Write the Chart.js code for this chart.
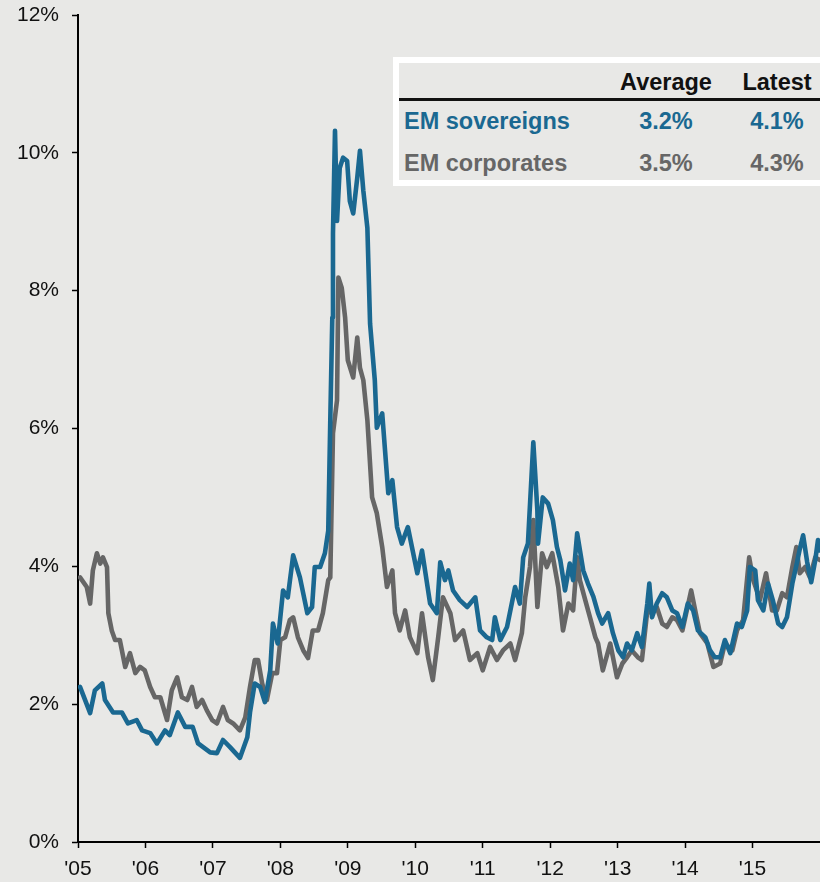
<!DOCTYPE html>
<html>
<head>
<meta charset="utf-8">
<script src="https://cdn.jsdelivr.net/npm/chart.js@4/dist/chart.umd.min.js"></script>
<style>
html,body{margin:0;padding:0;background:#e8e8e6;}
#wrap{position:relative;width:820px;height:882px;overflow:hidden;font-family:"Liberation Sans",Arial,sans-serif;}
#c{position:absolute;left:0;top:0;}
#legbox{position:absolute;left:393px;top:57px;width:440px;height:117px;border:6px solid #fff;background:#e8e8e6;}
#legline{position:absolute;left:399px;top:98px;width:421px;height:3px;background:#111;}
.lt{position:absolute;font-weight:bold;font-size:23.5px;line-height:23px;white-space:nowrap;}
.num{width:120px;text-align:center;}
</style>
</head>
<body>
<div id="wrap">
<canvas id="c" width="820" height="882"></canvas>
<div id="legbox"></div>
<div id="legline"></div>
<div id="legend"></div>
</div>
<script>
// ---- data ----
const xTickYears = [2005,2006,2007,2008,2009,2010,2011,2012,2013,2014,2015];
const xTickLabels = ["'05","'06","'07","'08","'09","'10","'11","'12","'13","'14","'15"];
const yTickValues = [0,2,4,6,8,10,12];
const seriesNames = ["EM sovereigns","EM corporates"];
const averages = ["3.2%","3.5%"];
const latests = ["4.1%","4.3%"];
const headers = ["Average","Latest"];
const seriesColors = ["#1a6891","#666666"];

// [decimal year, yield %]
const emSovereigns = [[2005.03,2.25],[2005.18,1.87],[2005.25,2.20],[2005.36,2.30],[2005.40,2.06],[2005.52,1.88],[2005.65,1.88],[2005.74,1.72],[2005.87,1.77],[2005.95,1.62],[2006.07,1.58],[2006.17,1.43],[2006.29,1.62],[2006.36,1.55],[2006.48,1.88],[2006.59,1.67],[2006.70,1.67],[2006.78,1.43],[2006.96,1.30],[2007.06,1.29],[2007.15,1.48],[2007.25,1.38],[2007.40,1.22],[2007.51,1.52],[2007.55,1.88],[2007.62,2.30],[2007.70,2.25],[2007.77,2.03],[2007.85,2.49],[2007.89,3.17],[2007.96,2.88],[2008.04,3.65],[2008.11,3.55],[2008.19,4.16],[2008.29,3.84],[2008.40,3.32],[2008.47,3.41],[2008.51,3.99],[2008.59,3.99],[2008.66,4.19],[2008.71,4.52],[2008.74,6.12],[2008.77,7.61],[2008.78,8.83],[2008.81,10.32],[2008.84,9.01],[2008.88,9.78],[2008.93,9.93],[2008.99,9.88],[2009.03,9.30],[2009.08,9.12],[2009.14,9.64],[2009.18,10.03],[2009.23,9.45],[2009.29,8.91],[2009.33,7.52],[2009.40,6.70],[2009.43,6.01],[2009.51,6.22],[2009.60,5.06],[2009.66,5.25],[2009.73,4.57],[2009.80,4.33],[2009.89,4.57],[2010.03,3.90],[2010.10,4.23],[2010.22,3.46],[2010.32,3.32],[2010.37,4.06],[2010.44,3.80],[2010.49,3.94],[2010.56,3.65],[2010.66,3.51],[2010.77,3.41],[2010.89,3.55],[2010.96,3.07],[2011.06,2.97],[2011.14,2.93],[2011.18,3.26],[2011.26,2.93],[2011.36,3.12],[2011.48,3.70],[2011.55,3.46],[2011.60,4.13],[2011.67,4.33],[2011.75,5.80],[2011.81,4.81],[2011.82,4.33],[2011.89,5.00],[2011.97,4.91],[2012.04,4.67],[2012.10,4.28],[2012.15,4.09],[2012.22,3.65],[2012.29,4.04],[2012.34,3.80],[2012.40,4.48],[2012.49,3.94],[2012.56,3.75],[2012.64,3.56],[2012.71,3.32],[2012.77,3.17],[2012.86,3.32],[2012.93,3.03],[2013.01,2.78],[2013.08,2.68],[2013.14,2.88],[2013.21,2.78],[2013.29,3.03],[2013.36,2.83],[2013.44,3.46],[2013.47,3.75],[2013.51,3.26],[2013.58,3.46],[2013.66,3.61],[2013.73,3.55],[2013.81,3.36],[2013.88,3.32],[2013.96,3.12],[2014.04,3.46],[2014.12,3.36],[2014.19,3.07],[2014.30,2.97],[2014.37,2.78],[2014.44,2.68],[2014.52,2.68],[2014.59,2.93],[2014.67,2.74],[2014.77,3.17],[2014.84,3.12],[2014.92,3.36],[2014.96,3.99],[2015.04,3.94],[2015.08,3.51],[2015.16,3.36],[2015.23,3.75],[2015.30,3.51],[2015.38,3.17],[2015.44,3.12],[2015.51,3.26],[2015.59,3.75],[2015.66,4.06],[2015.70,4.25],[2015.75,4.45],[2015.81,4.06],[2015.87,3.77],[2015.93,4.09],[2015.97,4.38],[2016.00,4.23]];

const emCorporates = [[2005.03,3.84],[2005.13,3.70],[2005.18,3.46],[2005.22,3.94],[2005.28,4.19],[2005.33,4.04],[2005.37,4.13],[2005.43,3.99],[2005.45,3.32],[2005.50,3.07],[2005.55,2.93],[2005.62,2.93],[2005.70,2.54],[2005.77,2.74],[2005.85,2.45],[2005.92,2.54],[2005.99,2.49],[2006.07,2.25],[2006.14,2.10],[2006.22,2.10],[2006.32,1.77],[2006.39,2.20],[2006.47,2.39],[2006.54,2.10],[2006.62,2.06],[2006.69,2.25],[2006.76,1.96],[2006.84,2.06],[2006.91,1.91],[2006.99,1.77],[2007.06,1.72],[2007.15,1.96],[2007.22,1.77],[2007.30,1.72],[2007.40,1.62],[2007.48,1.81],[2007.55,2.25],[2007.62,2.64],[2007.67,2.64],[2007.73,2.30],[2007.80,2.06],[2007.88,2.45],[2007.95,2.45],[2008.00,2.93],[2008.07,2.97],[2008.14,3.22],[2008.19,3.26],[2008.26,2.97],[2008.34,2.78],[2008.41,2.67],[2008.48,3.07],[2008.56,3.07],[2008.63,3.32],[2008.71,3.80],[2008.74,3.84],[2008.78,5.93],[2008.84,6.41],[2008.86,8.19],[2008.91,8.04],[2008.96,7.61],[2009.00,6.99],[2009.08,6.74],[2009.14,7.32],[2009.18,6.88],[2009.23,6.70],[2009.29,6.12],[2009.36,5.00],[2009.43,4.77],[2009.51,4.28],[2009.58,3.70],[2009.66,3.94],[2009.70,3.32],[2009.77,3.07],[2009.85,3.36],[2009.92,2.97],[2010.03,2.74],[2010.10,3.32],[2010.19,2.68],[2010.26,2.35],[2010.34,2.97],[2010.41,3.55],[2010.52,3.32],[2010.59,2.93],[2010.71,3.07],[2010.81,2.64],[2010.92,2.74],[2011.00,2.49],[2011.11,2.83],[2011.21,2.64],[2011.30,2.78],[2011.41,2.88],[2011.48,2.64],[2011.58,3.03],[2011.63,3.55],[2011.70,3.99],[2011.75,4.67],[2011.81,3.41],[2011.88,4.19],[2011.95,3.99],[2012.03,4.19],[2012.12,3.70],[2012.19,3.07],[2012.27,3.46],[2012.34,3.36],[2012.40,4.13],[2012.44,3.80],[2012.52,3.51],[2012.59,3.26],[2012.67,2.97],[2012.71,2.88],[2012.78,2.49],[2012.89,2.88],[2012.99,2.39],[2013.07,2.59],[2013.14,2.68],[2013.21,2.78],[2013.30,2.68],[2013.36,2.64],[2013.44,3.36],[2013.51,3.32],[2013.58,3.41],[2013.66,3.17],[2013.73,3.12],[2013.81,3.26],[2013.88,3.22],[2013.96,3.07],[2014.09,3.65],[2014.15,3.36],[2014.22,3.03],[2014.33,2.88],[2014.42,2.54],[2014.52,2.59],[2014.59,2.88],[2014.70,2.78],[2014.77,3.07],[2014.86,3.22],[2014.95,4.13],[2015.01,3.80],[2015.11,3.51],[2015.20,3.90],[2015.29,3.36],[2015.36,3.36],[2015.44,3.61],[2015.51,3.55],[2015.59,3.99],[2015.65,4.28],[2015.70,3.90],[2015.78,3.99],[2015.85,3.84],[2015.93,4.13],[2016.00,4.09]];

// ---- legend table (HTML text) ----
(function(){
  const L = document.getElementById('legend');
  const mk = (txt, left, top, color, cls) => {
    const d = document.createElement('div');
    d.className = 'lt ' + (cls||'');
    d.textContent = txt;
    d.style.left = left + 'px';
    d.style.top = top + 'px';
    d.style.color = color;
    L.appendChild(d);
  };
  const colCenters = [666, 777];
  const rowTops = [71, 110, 152];
  headers.forEach((h,i)=> mk(h, colCenters[i]-60, rowTops[0], '#111', 'num'));
  seriesNames.forEach((n,i)=>{
    mk(n, 404, rowTops[i+1], seriesColors[i], '');
    mk(averages[i], colCenters[0]-60, rowTops[i+1], seriesColors[i], 'num');
    mk(latests[i], colCenters[1]-60, rowTops[i+1], seriesColors[i], 'num');
  });
})();

// ---- chart ----
const font = {family: '"Liberation Sans", Arial, sans-serif', size: 21};
new Chart(document.getElementById('c'), {
  type: 'line',
  data: {
    datasets: [
      {label: seriesNames[0], data: emSovereigns.map(p=>({x:p[0], y:p[1]})), borderColor: seriesColors[0], borderWidth: 4.6, pointRadius: 0, tension: 0, borderJoinStyle: 'round', borderCapStyle: 'round'},
      {label: seriesNames[1], data: emCorporates.map(p=>({x:p[0], y:p[1]})), borderColor: seriesColors[1], borderWidth: 4.6, pointRadius: 0, tension: 0, borderJoinStyle: 'round', borderCapStyle: 'round'}
    ]
  },
  options: {
    responsive: false,
    animation: false,
    devicePixelRatio: 1,
    layout: {padding: {top: 15, right: 0, bottom: 0, left: 0}},
    plugins: {legend: {display: false}, tooltip: {enabled: false}},
    scales: {
      x: {
        type: 'linear', min: 2005, max: 2016,
        afterBuildTicks: s => { s.ticks = xTickYears.map(v => ({value: v})); },
        afterFit: s => { s.height = 40; },
        grid: {display: true, drawOnChartArea: false, drawTicks: true, tickLength: 6, tickColor: '#000', tickWidth: 1.5},
        border: {display: true, color: '#000', width: 2},
        ticks: {autoSkip: false, maxRotation: 0, color: '#111', font: font, padding: 9,
          callback: (v) => { const i = xTickYears.indexOf(v); return i >= 0 ? xTickLabels[i] : ''; }}
      },
      y: {
        type: 'linear', min: 0, max: 12,
        afterBuildTicks: s => { s.ticks = yTickValues.map(v => ({value: v})); },
        afterFit: s => { s.width = 78; s.paddingTop = 0; s.paddingBottom = 0; },
        grid: {display: true, drawOnChartArea: false, drawTicks: true, tickLength: 6, tickColor: '#000', tickWidth: 1.5},
        border: {display: true, color: '#000', width: 2},
        ticks: {color: '#111', font: font, padding: 13, callback: v => v + '%'}
      }
    }
  }
});
</script>
</body>
</html>
